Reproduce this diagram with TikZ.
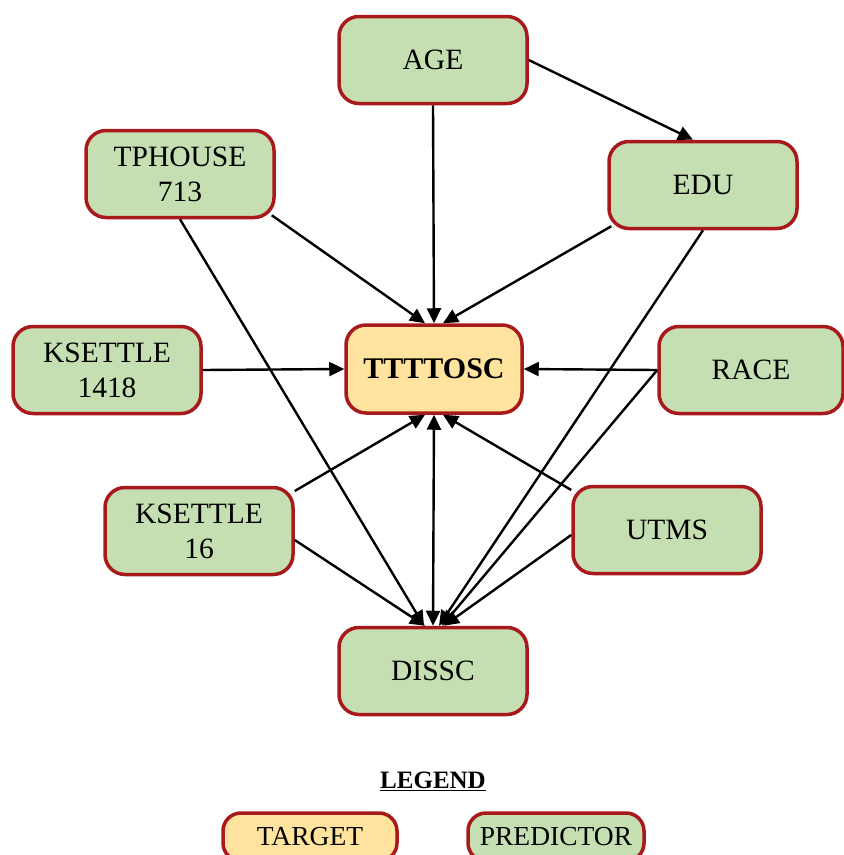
\documentclass[tikz,border=0pt]{standalone}
\usepackage{fontspec}
\setmainfont{Liberation Serif}
\usetikzlibrary{arrows.meta}
\definecolor{predfill}{HTML}{C5DFB2}
\definecolor{targfill}{HTML}{FFE39E}
\definecolor{boxedge}{HTML}{A8191C}
\tikzset{
  box/.style={draw=boxedge, line width=3.5pt, rounded corners=20pt,
    align=center, inner sep=2pt, font=\fontsize{29.5}{35}\selectfont},
  pred/.style={box, fill=predfill, minimum width=188pt, minimum height=87pt},
  targ/.style={box, fill=targfill, minimum width=176pt, minimum height=88pt,
    font=\fontsize{30}{35}\selectfont\bfseries},
  legbox/.style={draw=boxedge, line width=3.5pt, rounded corners=18pt,
    minimum width=174pt, minimum height=48pt, font=\fontsize{27.5}{32}\selectfont},
  link/.style={line width=2.4pt, -{Triangle[length=15pt,width=14pt]}},
  bilink/.style={line width=2.4pt, {Triangle[length=15pt,width=14pt]}-{Triangle[length=15pt,width=14pt]}}
}
\begin{document}
\begin{tikzpicture}[x=1pt,y=-1pt]
\useasboundingbox (0,0) rectangle (844,855);
% predictor and target boxes
\node[pred] (age) at (433,60) {AGE};
\node[pred] (tph) at (180,174) {TPHOUSE\\713};
\node[pred] (edu) at (703,185) {EDU};
\node[pred] (ksa) at (107,370) {KSETTLE\\1418};
\node[targ] (tgt) at (434,369) {TTTTOSC};
\node[pred, minimum width=184pt] (race) at (751,370) {RACE};
\node[pred] (ksb) at (199,531) {KSETTLE\\16};
\node[pred] (utms) at (667,530) {UTMS};
\node[pred] (dis) at (433,671) {DISSC};
% links into the target
\draw[link] (age.east) -- ([xshift=-10pt]edu.north);
\draw[link] (age.south) -- (tgt.north);
\draw[link] ([xshift=-4pt,yshift=4pt]tph.south east) -- ([xshift=-9pt]tgt.north);
\draw[link] ([xshift=4pt,yshift=4pt]edu.south west) -- ([xshift=9pt]tgt.north);
\draw[link] (ksa.east) -- (tgt.west);
\draw[link] (race.west) -- (tgt.east);
\draw[link] ([yshift=40pt]ksb.east) -- ([xshift=-9pt]tgt.south);
\draw[link] ([yshift=40pt]utms.west) -- ([xshift=9pt]tgt.south);
\draw[bilink] (tgt.south) -- (dis.north);
% links into DISSC
\draw[link] (tph.south) -- ([xshift=-9pt]dis.north);
\draw[link] ([yshift=-9pt]ksb.east) -- ([xshift=-8pt]dis.north);
\draw[link] (edu.south) -- ([xshift=6pt]dis.north);
\draw[link] (race.west) -- ([xshift=9pt]dis.north);
\draw[link] ([yshift=-5pt]utms.west) -- ([xshift=11pt]dis.north);
% legend
\node[font=\fontsize{25}{29}\selectfont\bfseries] (leg) at (433,781) {\underline{LEGEND}};
\node[legbox, fill=targfill] (lt) at (310,837) {TARGET};
\node[legbox, fill=predfill, minimum width=176pt] (lp) at (556,837) {PREDICTOR};
\end{tikzpicture}
\end{document}
